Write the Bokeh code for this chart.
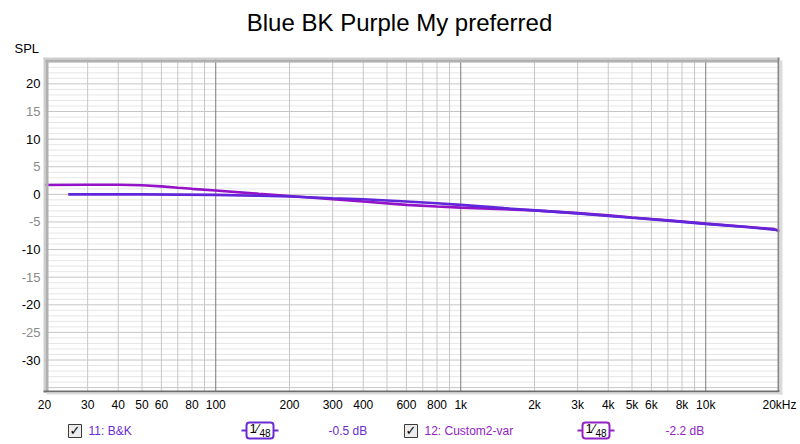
import math
from bokeh.plotting import figure
from bokeh.models import Label, BoxAnnotation, Range1d, LogScale
from bokeh.core.properties import value
from bokeh.embed import file_html
from bokeh.resources import INLINE

# ---- data ----
freq_bk = [25, 30, 40, 50, 70, 100, 150, 200, 300, 400, 600, 800, 1000, 1500,
           2000, 3000, 4000, 5000, 7000, 10000, 15000, 20000]
spl_bk = [0.0, 0.0, 0.0, 0.0, -0.05, -0.1, -0.25, -0.4, -0.7, -0.9, -1.3, -1.6,
          -1.9, -2.5, -2.9, -3.45, -3.9, -4.25, -4.75, -5.35, -5.95, -6.5]

freq_custom = [20, 30, 40, 50, 60, 70, 80, 100, 150, 200, 300, 400, 600, 800,
               1000, 1500, 2000, 3000, 4000, 5000, 7000, 10000, 15000, 19000, 20000]
spl_custom = [1.7, 1.75, 1.75, 1.65, 1.45, 1.2, 1.0, 0.7, 0.1, -0.3, -0.9, -1.3,
              -1.9, -2.2, -2.4, -2.7, -2.9, -3.4, -3.8, -4.2, -4.7, -5.3, -5.9,
              -6.3, -6.7]

x_ticks = [20, 30, 40, 50, 60, 80, 100, 200, 300, 400, 600, 800, 1000, 2000,
           3000, 4000, 5000, 6000, 8000, 10000, 20000]
x_tick_labels = ["20", "30", "40", "50", "60", "80", "100", "200", "300", "400",
                 "600", "800", "1k", "2k", "3k", "4k", "5k", "6k", "8k", "10k", "20kHz"]
x_minor_grid = [30, 40, 50, 60, 70, 80, 90, 200, 300, 400, 500, 600, 700, 800,
                900, 2000, 3000, 4000, 5000, 6000, 7000, 8000, 9000]
x_major_grid = [100, 1000, 10000]

y_major_labels = [-30, -20, -10, 0, 10, 20]
y_minor_labels = [-25, -15, -5, 5, 15]
y_fine_grid = [v for v in range(-35, 25) if v % 5 != 0]
y_five_grid = list(range(-35, 25, 5))

x_lo, x_hi = 20, 20000        # axis limits (Hz)
y_lo, y_hi = -35.7, 24.6      # axis limits (dB)

title_text = "Blue BK Purple My preferred"
legend_names = ["11: B&K", "12: Custom2-var"]
legend_values = ["-0.5 dB", "-2.2 dB"]
color_bk = "#6226da"
color_custom = "#9412c8"
legend_colors = ["#6a2cd2", "#9222c4"]

# ---- layout (pixels) ----
W, H = 800, 444
PL, PR, PT, PB = 44, 779, 58, 391   # plot area edges on the canvas

dec_px = (math.log10(x_hi) - math.log10(x_lo)) / (PR - PL)
xr = Range1d(10 ** (math.log10(x_lo) - PL * dec_px), 10 ** (math.log10(x_hi) + (W - PR) * dec_px))
db_px = (y_hi - y_lo) / (PB - PT)
yr = Range1d(y_lo - (H - PB) * db_px, y_hi + PT * db_px)

p = figure(width=W, height=H, output_backend="svg", toolbar_location=None,
           x_axis_type="log", x_axis_location=None, y_axis_location=None,
           x_range=xr, y_range=yr, min_border=0, title=None)
p.x_scale = LogScale()
p.background_fill_color = "white"
p.border_fill_color = "white"
p.outline_line_color = None
p.xgrid.visible = False
p.ygrid.visible = False

FONT = value("Liberation Sans")

# ---- grid lines ----
def hlines(vals, color):
    p.segment(x0=[x_lo] * len(vals), x1=[x_hi] * len(vals), y0=vals, y1=vals,
              line_color=color, line_width=1)

def vlines(vals, color):
    p.segment(x0=vals, x1=vals, y0=[y_lo] * len(vals), y1=[y_hi] * len(vals),
              line_color=color, line_width=1)

hlines(y_fine_grid, "#e6e6e6")
hlines(y_five_grid, "#c6c6c6")
vlines(x_minor_grid, "#c6c6c6")
vlines(x_major_grid, "#7a7a7a")

# ---- curves ----
p.line(freq_custom, spl_custom, line_color=color_custom, line_width=2.6)
p.line(freq_bk, spl_bk, line_color=color_bk, line_width=2.6)

# ---- tick labels ----
p.text(x=x_ticks, y=[y_lo] * len(x_ticks), text=x_tick_labels, y_offset=13,
       text_align="center", text_baseline="middle", text_font=FONT,
       text_font_size=value("12px"), text_color="black")
p.text(x=[x_lo] * len(y_major_labels), y=y_major_labels,
       text=[str(v) for v in y_major_labels], x_offset=-4,
       text_align="right", text_baseline="middle", text_font=FONT,
       text_font_size=value("13px"), text_color="black")
p.text(x=[x_lo] * len(y_minor_labels), y=y_minor_labels,
       text=[str(v) for v in y_minor_labels], x_offset=-4,
       text_align="right", text_baseline="middle", text_font=FONT,
       text_font_size=value("13px"), text_color="#8a8a8a")


# ---- helpers in canvas pixels (origin bottom-left) ----
def sbox(l, r, b, t, color, line=None, lw=1, radius=0):
    p.add_layout(BoxAnnotation(left=l, right=r, bottom=b, top=t,
                               left_units="screen", right_units="screen",
                               top_units="screen", bottom_units="screen",
                               fill_color=color, fill_alpha=1.0,
                               line_color=line, line_alpha=1.0, line_width=lw,
                               border_radius=radius))


def slabel(x, y, text, size="12px", color="black", align="left",
           font="Liberation Sans", style="normal"):
    p.add_layout(Label(x=x, y=y, x_units="screen", y_units="screen", text=text,
                       text_align=align, text_baseline="middle", text_font=font,
                       text_font_size=size, text_color=color, text_font_style=style))


def Y(page_y):
    return H - page_y


# ---- plot frame border with shading ----
sbox(PL - 1, PL + 1, Y(PB), Y(PT - 1), "#cfcfcf")
sbox(PL + 1, PL + 4, Y(PB), Y(PT + 1), "#b0b0b0")
sbox(PL - 1, PR, Y(PT + 1), Y(PT - 1), "#cfcfcf")
sbox(PL + 1, PR - 1, Y(PT + 4), Y(PT + 1), "#b0b0b0")
sbox(PR - 2, PR, Y(PB), Y(PT - 1), "#8a8a8a")
sbox(PR, PR + 3, Y(PB + 3), Y(PT + 2), "#dcdcdc")
sbox(PL - 1, PR, Y(PB + 1), Y(PB - 1), "#6e6e6e")
sbox(PL + 2, PR + 3, Y(PB + 3), Y(PB + 1), "#dcdcdc")

# ---- title & axis name ----
slabel(399, Y(22), title_text, size="24px", align="center")
slabel(14, Y(48), "SPL", size="13px")

# ---- legend row ----
row = Y(430)
chk_x = [68, 404]
name_x = [88, 424]
box_x = [246, 582]
val_x = [328, 665]
for i in range(2):
    cx = chk_x[i]
    sbox(cx, cx + 13, row - 7, row + 6, "#ececec", line="#3a3a3a", lw=1)
    slabel(cx + 6.5, row, "✓", size="13px", color="black", align="center",
           font="DejaVu Sans", style="bold")
    slabel(name_x[i], row, legend_names[i], size="12px", color=legend_colors[i])
    bx = box_x[i]
    sbox(bx - 5, bx + 32, row - 1, row + 1, legend_colors[i])
    sbox(bx, bx + 27, row - 8, row + 8, "white", line=legend_colors[i], lw=2, radius=3)
    slabel(bx + 3, row + 2, "1\u2044", size="13px", color="black")
    slabel(bx + 13, row - 2, "48", size="10px", color="black")
    slabel(val_x[i], row, legend_values[i], size="12px", color=legend_colors[i])

open("out.html", "w").write(file_html(p, INLINE))
